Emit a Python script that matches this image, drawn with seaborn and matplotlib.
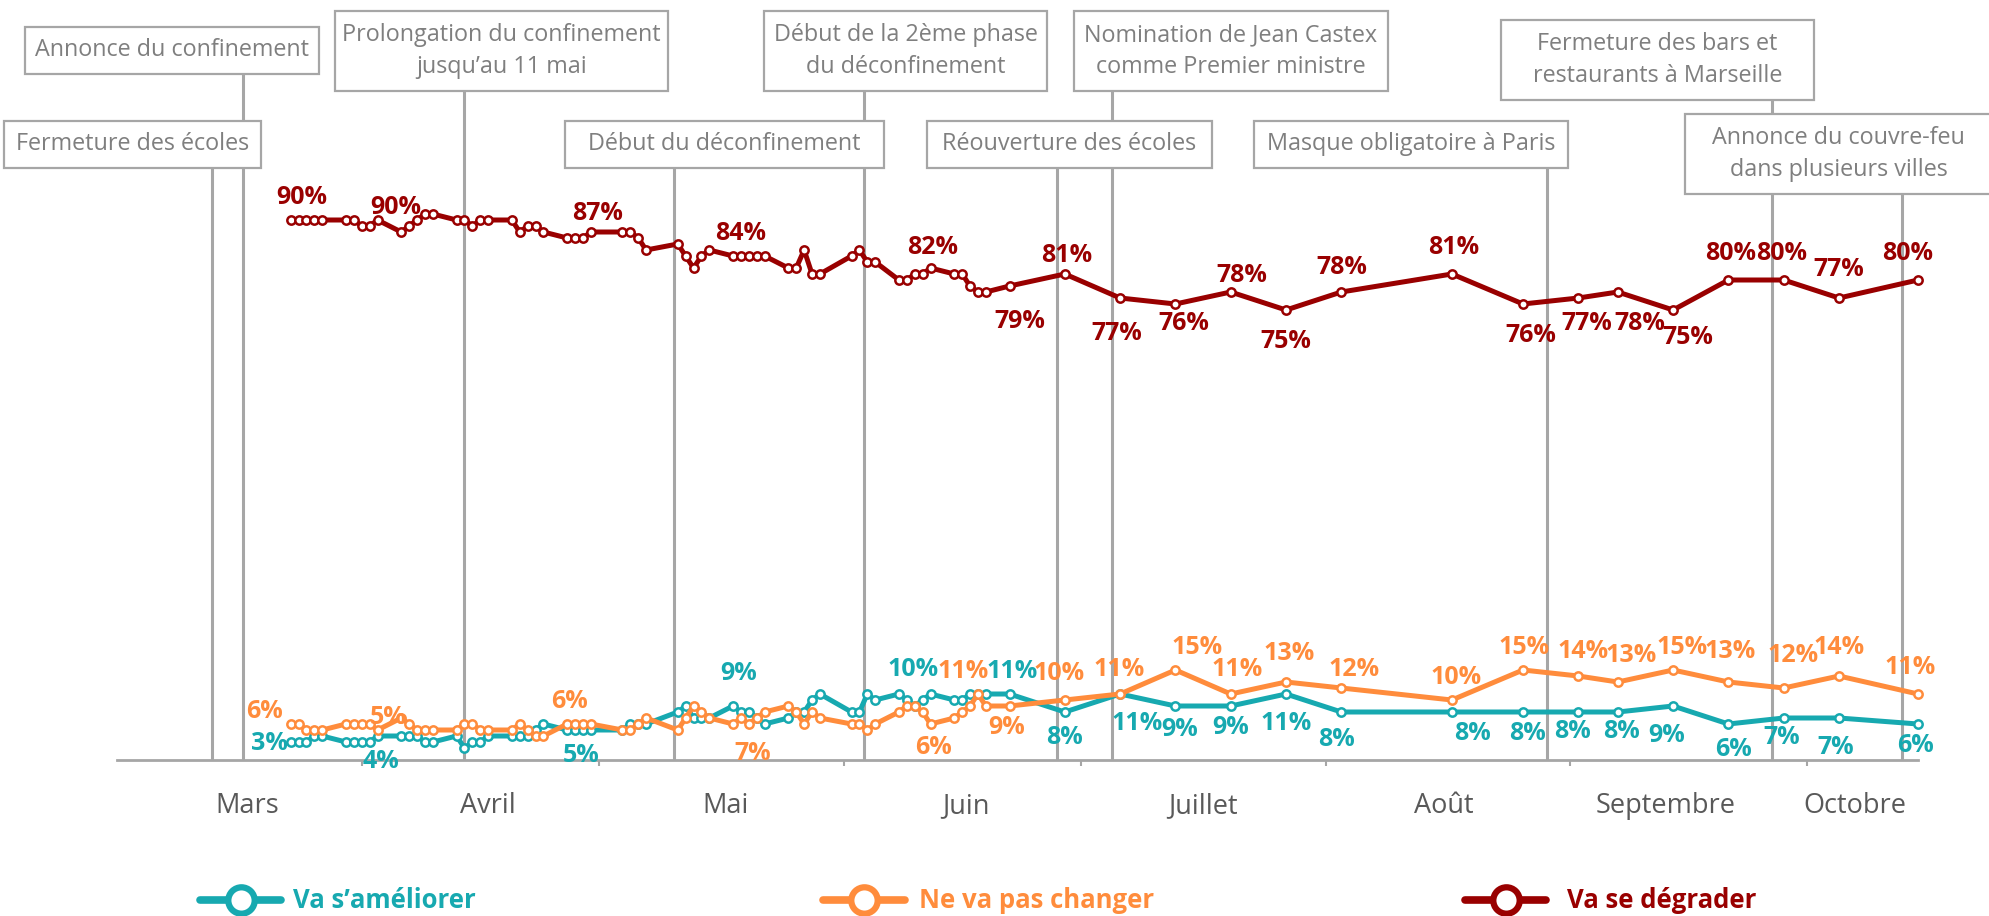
import matplotlib
matplotlib.use("Agg")
import matplotlib.pyplot as plt
from matplotlib.patches import Rectangle
from matplotlib.lines import Line2D
import pandas as pd
import seaborn as sns

### DATA ###############################################################################################################
# survey waves (daily during the lockdown, then weekly)
wave_dates = [
    "2020-03-23", "2020-03-24", "2020-03-25", "2020-03-26", "2020-03-27",
    "2020-03-30", "2020-03-31", "2020-04-01", "2020-04-02", "2020-04-03",
    "2020-04-06", "2020-04-07", "2020-04-08", "2020-04-09", "2020-04-10",
    "2020-04-13", "2020-04-14", "2020-04-15", "2020-04-16", "2020-04-17",
    "2020-04-20", "2020-04-21", "2020-04-22", "2020-04-23", "2020-04-24",
    "2020-04-27", "2020-04-28", "2020-04-29", "2020-04-30",
    "2020-05-04", "2020-05-05", "2020-05-06", "2020-05-07",
    "2020-05-11", "2020-05-12", "2020-05-13", "2020-05-14", "2020-05-15",
    "2020-05-18", "2020-05-19", "2020-05-20", "2020-05-21", "2020-05-22",
    "2020-05-25", "2020-05-26", "2020-05-27", "2020-05-28", "2020-05-29",
    "2020-06-02", "2020-06-03", "2020-06-04", "2020-06-05",
    "2020-06-08", "2020-06-09", "2020-06-10", "2020-06-11", "2020-06-12",
    "2020-06-15", "2020-06-16", "2020-06-17", "2020-06-18", "2020-06-19",
    "2020-06-22", "2020-06-29", "2020-07-06", "2020-07-13", "2020-07-20", "2020-07-27",
    "2020-08-03", "2020-08-17", "2020-08-26", "2020-09-02", "2020-09-07", "2020-09-14",
    "2020-09-21", "2020-09-28", "2020-10-05", "2020-10-15",
]

ameliorer = [
    3, 3, 3, 4, 4,
    3, 3, 3, 3, 4,
    4, 4, 4, 3, 3,
    4, 2, 3, 3, 4,
    4, 4, 4, 5, 6,
    5, 5, 5, 5,
    5, 6, 6, 6,
    8, 9, 7, 7, 7,
    9, 8, 8, 7, 6,
    7, 8, 8, 10, 11,
    8, 8, 11, 10,
    11, 10, 9, 10, 11,
    10, 10, 11, 11, 11,
    11, 8, 11, 9, 9, 11,
    8, 8, 8, 8, 8, 9,
    6, 7, 7, 6,
]

pas_changer = [
    6, 6, 5, 5, 5,
    6, 6, 6, 6, 5,
    7, 6, 5, 5, 5,
    5, 6, 6, 5, 5,
    5, 6, 5, 4, 4,
    6, 6, 6, 6,
    5, 5, 6, 7,
    5, 7, 9, 8, 7,
    6, 7, 6, 7, 8,
    9, 8, 6, 8, 7,
    6, 6, 5, 6,
    8, 9, 9, 8, 6,
    7, 8, 9, 11, 9,
    9, 10, 11, 15, 11, 13,
    12, 10, 15, 14, 13, 15,
    13, 12, 14, 11,
]

degrader = [
    90, 90, 90, 90, 90,
    90, 90, 89, 89, 90,
    88, 89, 90, 91, 91,
    90, 90, 89, 90, 90,
    90, 88, 89, 89, 88,
    87, 87, 87, 88,
    88, 88, 87, 85,
    86, 84, 82, 84, 85,
    84, 84, 84, 84, 84,
    82, 82, 85, 81, 81,
    84, 85, 83, 83,
    80, 80, 81, 81, 82,
    81, 81, 79, 78, 78,
    79, 81, 77, 76, 78, 75,
    78, 81, 76, 77, 78, 75,
    80, 80, 77, 80,
]

series_names = ["Va s’améliorer", "Ne va pas changer", "Va se dégrader"]

# data labels shown on the chart (wave date, text)
label_dates_ameliorer = ["2020-03-23", "2020-04-03", "2020-04-29", "2020-05-18", "2020-06-09", "2020-06-22",
                         "2020-06-29", "2020-07-06", "2020-07-13", "2020-07-20", "2020-07-27", "2020-08-03",
                         "2020-08-17", "2020-08-26", "2020-09-02", "2020-09-07", "2020-09-14", "2020-09-21",
                         "2020-09-28", "2020-10-05", "2020-10-15"]
label_text_ameliorer = ["3%", "4%", "5%", "9%", "10%", "11%", "8%", "11%", "9%", "9%", "11%", "8%",
                        "8%", "8%", "8%", "8%", "9%", "6%", "7%", "7%", "6%"]

label_dates_pas_changer = ["2020-03-23", "2020-04-06", "2020-04-28", "2020-05-20", "2020-06-12", "2020-06-18",
                           "2020-06-22", "2020-06-29", "2020-07-06", "2020-07-13", "2020-07-20", "2020-07-27",
                           "2020-08-03", "2020-08-17", "2020-08-26", "2020-09-02", "2020-09-07", "2020-09-14",
                           "2020-09-21", "2020-09-28", "2020-10-05", "2020-10-15"]
label_text_pas_changer = ["6%", "5%", "6%", "7%", "6%", "11%", "9%", "10%", "11%", "15%", "11%", "13%",
                          "12%", "10%", "15%", "14%", "13%", "15%", "13%", "12%", "14%", "11%"]

label_dates_degrader = ["2020-03-23", "2020-04-03", "2020-04-30", "2020-05-18", "2020-06-12", "2020-06-22",
                        "2020-06-29", "2020-07-06", "2020-07-13", "2020-07-20", "2020-07-27", "2020-08-03",
                        "2020-08-17", "2020-08-26", "2020-09-02", "2020-09-07", "2020-09-14", "2020-09-21",
                        "2020-09-28", "2020-10-05", "2020-10-15"]
label_text_degrader = ["90%", "90%", "87%", "84%", "82%", "79%", "81%", "77%", "76%", "78%", "75%", "78%",
                       "81%", "76%", "77%", "78%", "75%", "80%", "80%", "77%", "80%"]

# events
event_dates = ["2020-03-13 00:00", "2020-03-17 00:00", "2020-04-14 00:00", "2020-05-10 12:00", "2020-06-03 14:00",
               "2020-06-28 00:00", "2020-07-05 00:00", "2020-08-29 00:00", "2020-09-26 12:00", "2020-10-13 00:00"]
event_labels = [
    ["Fermeture des écoles"],
    ["Annonce du confinement"],
    ["Prolongation du confinement", "jusqu’au 11 mai"],
    ["Début du déconfinement"],
    ["Début de la 2ème phase", "du déconfinement"],
    ["Réouverture des écoles"],
    ["Nomination de Jean Castex", "comme Premier ministre"],
    ["Masque obligatoire à Paris"],
    ["Fermeture des bars et", "restaurants à Marseille"],
    ["Annonce du couvre-feu", "dans plusieurs villes"],
]

month_labels = ["Mars", "Avril", "Mai", "Juin", "Juillet", "Août", "Septembre", "Octobre"]
month_label_dates = ["2020-03-17 12:00", "2020-04-17 00:00", "2020-05-17 00:00", "2020-06-16 12:00",
                     "2020-07-16 12:00", "2020-08-16 00:00", "2020-09-13 00:00", "2020-10-07 00:00"]
month_tick_dates = ["2020-04-01", "2020-05-01", "2020-06-01", "2020-07-01", "2020-08-01", "2020-09-01",
                    "2020-10-01"]

### LAYOUT / STYLE #####################################################################################################
W, H = 1989, 916
colors = ["#17A9B0", "#FF8C3C", "#990000"]
grey_line = "#A6A6A6"
grey_text = "#7F7F7F"

# label offsets in pixels (dx, dy up)
offsets_ameliorer = [(-21, -1), (3, -26), (-2, -25), (6, 33), (6, 30), (3, 22), (0, -26), (17, -29), (4, -24),
                     (0, -22), (0, -29), (-5, -28), (21, -21), (4, -21), (-6, -20), (4, -20), (-6, -29),
                     (5, -26), (-2, -20), (-3, -29), (-2, -21)]
offsets_pas_changer = [(-26, 12), (-13, 1), (-6, 22), (4, -29), (3, -23), (-15, 22), (-3, -21), (-6, 27),
                       (-1, 24), (22, 22), (6, 24), (3, 29), (13, 18), (4, 22), (1, 22), (5, 24), (13, 27),
                       (9, 22), (2, 30), (9, 33), (0, 28), (-8, 27)]
offsets_degrader = [(11, 22), (18, 13), (7, 19), (8, 23), (2, 21), (10, -36), (2, 18), (-3, -35), (8, -19),
                    (11, 16), (0, -32), (0, 24), (2, 26), (8, -32), (8, -25), (22, -31), (15, -27), (2, 27),
                    (-2, 27), (0, 28), (-10, 27)]

# event boxes in pixels: left, top, right, bottom
event_boxes = [
    (4, 121, 261, 168), (25, 27, 319, 74), (335, 11, 668, 91), (565, 121, 884, 168),
    (764, 11, 1047, 91), (927, 121, 1212, 168), (1074, 11, 1388, 91), (1254, 121, 1568, 168),
    (1501, 20, 1814, 100), (1685, 114, 1992, 194),
]

### PLOT ###############################################################################################################
sns.set_theme(style="white")
plt.rcParams["font.family"] = ["Open Sans", "DejaVu Sans"]

df = pd.DataFrame({
    "date": pd.to_datetime(wave_dates),
    series_names[0]: ameliorer,
    series_names[1]: pas_changer,
    series_names[2]: degrader,
})

fig = plt.figure(figsize=(W / 100, H / 100), dpi=100)
ax_left, ax_right, ax_bottom = 117, 1918, 760
ax = fig.add_axes([ax_left / W, (H - ax_bottom) / H, (ax_right - ax_left) / W, ax_bottom / H])

start = pd.Timestamp("2020-03-23")
ax.set_xlim(start - pd.Timedelta(days=21.98), start + pd.Timedelta(days=206))
ax.set_ylim(0, ax_bottom / 6)

# event lines
for d, box in zip(event_dates, event_boxes):
    ax.axvline(pd.Timestamp(d), ymin=0, ymax=(ax_bottom - box[3]) / ax_bottom, color=grey_line, lw=2.2, zorder=1)

# series
for name, color in zip(series_names, colors):
    sns.lineplot(data=df, x="date", y=name, ax=ax, color=color, lw=3.6, marker="o", markersize=6,
                 markerfacecolor="white", markeredgecolor=color, markeredgewidth=1.8, clip_on=False,
                 estimator=None, sort=False, zorder=3)

# data labels
label_sets = [
    (label_dates_ameliorer, label_text_ameliorer, offsets_ameliorer, series_names[0], colors[0]),
    (label_dates_pas_changer, label_text_pas_changer, offsets_pas_changer, series_names[1], colors[1]),
    (label_dates_degrader, label_text_degrader, offsets_degrader, series_names[2], colors[2]),
]
indexed = df.set_index("date")
for dates_, texts, offs, name, color in label_sets:
    for d, t, (dx, dy) in zip(dates_, texts, offs):
        d = pd.Timestamp(d)
        ax.annotate(t, xy=(d, indexed.loc[d, name]), xytext=(dx, dy), textcoords="offset pixels",
                    ha="center", va="center", color=color, fontsize=18, fontweight="bold", zorder=4,
                    annotation_clip=False)

# axes styling
for side in ["top", "left", "right"]:
    ax.spines[side].set_visible(False)
ax.spines["bottom"].set_color(grey_line)
ax.spines["bottom"].set_linewidth(2)
ax.set_yticks([])
ax.set_xticks(pd.to_datetime(month_label_dates, format="mixed"))
ax.set_xticklabels(month_labels)
ax.set_xticks(pd.to_datetime(month_tick_dates), minor=True)
ax.tick_params(axis="x", which="major", length=0, pad=23, labelsize=19.5, labelcolor="#595959")
ax.tick_params(axis="x", which="minor", length=4, width=1.5, color=grey_line, direction="out", bottom=True)
ax.set_xlabel("")
ax.set_ylabel("")

# event boxes
for lines, (l, t, r, b) in zip(event_labels, event_boxes):
    fig.add_artist(Rectangle((l / W, 1 - b / H), (r - l) / W, (b - t) / H, transform=fig.transFigure,
                             facecolor="white", edgecolor=grey_line, lw=1.6, zorder=5))
    cy = (t + b) / 2
    n = len(lines)
    for i, line in enumerate(lines):
        y = cy + (i - (n - 1) / 2) * 31.6
        fig.text(((l + r) / 2) / W, 1 - y / H, line, ha="center", va="center", color=grey_text,
                 fontsize=16.8, zorder=6)

# legend
legend_pos = [(200, 281, 293), (823, 905, 919), (1465, 1546, 1567)]
for name, color, (x0, x1, xt) in zip(series_names, colors, legend_pos):
    yl = 1 - 900 / H
    fig.add_artist(Line2D([x0 / W, (x0 + x1) / 2 / W, x1 / W], [yl, yl, yl], transform=fig.transFigure,
                          color=color, lw=5.5, marker="o", markevery=[1], markersize=19,
                          markerfacecolor="white", markeredgecolor=color, markeredgewidth=4.5))
    fig.text(xt / W, yl, name, ha="left", va="center", color=color, fontsize=18.5, fontweight="bold")

fig.savefig("out.png", dpi=100)
